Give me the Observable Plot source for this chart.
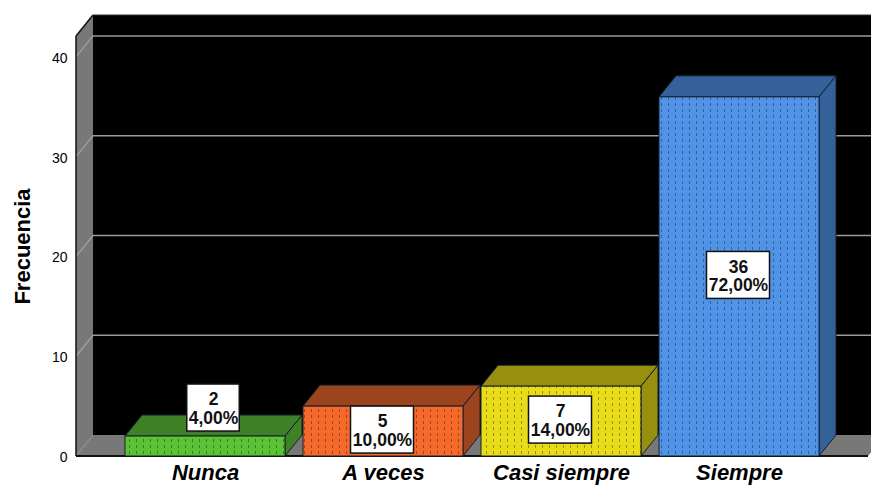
<!DOCTYPE html>
<html>
<head>
<meta charset="utf-8">
<script src="https://cdn.jsdelivr.net/npm/d3@7"></script>
<script src="https://cdn.jsdelivr.net/npm/@observablehq/plot@0.6"></script>
<style>
  html, body { margin: 0; padding: 0; background: #fff; overflow: hidden; }
  svg { display: block; }
</style>
</head>
<body>
<div id="chart"></div>
<script>
const categorias = ["Nunca", "A veces", "Casi siempre", "Siempre"];
const frecuencias = [2, 5, 7, 36];
const porcentajes = ["4,00%", "10,00%", "14,00%", "72,00%"];
const coloresFrente = ["#5cc235", "#f56a2b", "#e9dc18", "#5193e6"];
const coloresCara = ["#3f8126", "#9c441d", "#988f10", "#35619a"];
const marcasY = [0, 10, 20, 30, 40];

const filas = categorias.map((categoria, i) => ({
  categoria,
  frecuencia: frecuencias[i],
  porcentaje: porcentajes[i],
  frente: coloresFrente[i],
  cara: coloresCara[i],
  id: `punteado-${i}`
}));

// Oblique projection used for the depth of the box
const fondoX = 17;
const fondoY = -21;
const NS = "http://www.w3.org/2000/svg";

function poligono(g, puntos, fill, stroke) {
  const p = document.createElementNS(NS, "polygon");
  p.setAttribute("points", puntos.map(q => q.join(",")).join(" "));
  p.setAttribute("fill", fill);
  if (stroke) { p.setAttribute("stroke", stroke); p.setAttribute("stroke-width", 1); p.setAttribute("stroke-linejoin", "round"); }
  g.appendChild(p);
}

function linea(g, a, b, stroke, ancho) {
  const l = document.createElementNS(NS, "line");
  l.setAttribute("x1", a[0]); l.setAttribute("y1", a[1]);
  l.setAttribute("x2", b[0]); l.setAttribute("y2", b[1]);
  l.setAttribute("stroke", stroke); l.setAttribute("stroke-width", ancho);
  g.appendChild(l);
}

// Stippled fills for the front faces
function patrones() {
  const defs = document.createElementNS(NS, "defs");
  for (const f of filas) {
    const pat = document.createElementNS(NS, "pattern");
    pat.setAttribute("id", f.id);
    pat.setAttribute("patternUnits", "userSpaceOnUse");
    pat.setAttribute("width", 7);
    pat.setAttribute("height", 6);
    const base = document.createElementNS(NS, "rect");
    base.setAttribute("width", 7); base.setAttribute("height", 6); base.setAttribute("fill", f.frente);
    const punto = document.createElementNS(NS, "rect");
    punto.setAttribute("x", 3); punto.setAttribute("y", 1);
    punto.setAttribute("width", 1); punto.setAttribute("height", 3);
    punto.setAttribute("fill", d3.color(f.frente).darker(1.2));
    pat.append(base, punto);
    defs.appendChild(pat);
  }
  return defs;
}

// Back wall, left wall, floor and the grid lines that run across them
function caja(index, scales, values, dim) {
  const g = document.createElementNS(NS, "g");
  const izq = dim.marginLeft, der = dim.width - dim.marginRight;
  const arriba = dim.marginTop, abajo = dim.height - dim.marginBottom;
  poligono(g, [[izq + fondoX, arriba + fondoY], [der + fondoX, arriba + fondoY], [der + fondoX, abajo + fondoY], [izq + fondoX, abajo + fondoY]], "#000");
  poligono(g, [[izq, arriba], [izq + fondoX, arriba + fondoY], [izq + fondoX, abajo + fondoY], [izq, abajo]], "#787878");
  poligono(g, [[izq, abajo], [izq + fondoX, abajo + fondoY], [der + fondoX, abajo + fondoY], [der, abajo]], "#787878");
  for (const v of marcasY) {
    const y = scales.y(v);
    if (v > 0) linea(g, [izq + fondoX, y + fondoY], [der + fondoX, y + fondoY], "#9a9a9a", 1.6);
    linea(g, [izq, y], [izq + fondoX, y + fondoY], v > 0 ? "#a0a0a0" : "#8c8c8c", 1.3);
  }
  linea(g, [izq, arriba], [izq + fondoX, arriba + fondoY], "#111", 1.5);
  linea(g, [izq + fondoX, arriba + fondoY], [der + fondoX, arriba + fondoY], "#333", 1);
  linea(g, [izq, arriba], [izq, abajo], "#111", 1.5);
  linea(g, [izq, abajo], [der, abajo], "#111", 2);
  return g;
}

// Top and side faces of each bar
function caras(index, scales) {
  const g = document.createElementNS(NS, "g");
  const ancho = scales.x.bandwidth();
  for (const f of filas) {
    const x0 = scales.x(f.categoria), x1 = x0 + ancho;
    const y0 = scales.y(0), y1 = scales.y(f.frecuencia);
    poligono(g, [[x0, y1], [x0 + fondoX, y1 + fondoY], [x1 + fondoX, y1 + fondoY], [x1, y1]], f.cara, "#14202c");
    poligono(g, [[x1, y1], [x1 + fondoX, y1 + fondoY], [x1 + fondoX, y0 + fondoY], [x1, y0]], f.cara, "#14202c");
  }
  return g;
}

// The lowest bar is too short to hold its label, which sits above it
const desplazaX = d => d.frecuencia < 3 ? 8 : -1;
const desplazaY = d => d.frecuencia < 3 ? -38 : -1;

function cajasEtiqueta(index, scales) {
  const g = document.createElementNS(NS, "g");
  const ancho = scales.x.bandwidth();
  for (const f of filas) {
    const w = f.porcentaje.length * 10.5;
    const cx = scales.x(f.categoria) + ancho / 2 + desplazaX(f);
    const cy = scales.y(f.frecuencia / 2) + desplazaY(f);
    const r = document.createElementNS(NS, "rect");
    r.setAttribute("x", cx - w / 2); r.setAttribute("y", cy - 24);
    r.setAttribute("width", w); r.setAttribute("height", 47);
    r.setAttribute("fill", "#fff"); r.setAttribute("stroke", "#111"); r.setAttribute("stroke-width", 1.5);
    g.appendChild(r);
  }
  return g;
}

const chart = Plot.plot({
  width: 871,
  height: 486,
  marginLeft: 76,
  marginRight: 3,
  marginTop: 36,
  marginBottom: 30,
  style: { fontFamily: "'Liberation Sans', Arial, sans-serif", background: "#fff", color: "#000" },
  x: { domain: categorias, paddingInner: 18 / 178, paddingOuter: 49 / 178, label: null },
  y: { domain: [0, 42.1], label: null },
  marks: [
    patrones,
    caja,
    Plot.axisY({ ticks: marcasY, tickSize: 0, tickPadding: 9, dy: 1, fontSize: 14, label: null, tickFormat: d => String(d) }),
    Plot.axisX({ tickSize: 0, tickPadding: 8, fontSize: 22, fontWeight: "bold", fontStyle: "italic", label: null }),
    Plot.text(["Frecuencia"], {
      frameAnchor: "left", textAnchor: "middle", rotate: -90, dx: -54,
      fontSize: 22, fontWeight: "bold", fill: "#000"
    }),
    caras,
    Plot.barY(filas, {
      x: "categoria",
      y: "frecuencia",
      fill: d => `url(#${d.id})`,
      stroke: "#14202c",
      strokeWidth: 1
    }),
    cajasEtiqueta,
    Plot.text(filas, {
      x: "categoria",
      y: d => d.frecuencia / 2,
      text: d => `${d.frecuencia}\n${d.porcentaje}`,
      fontSize: 17.5,
      fontWeight: "bold",
      fill: "#111",
      lineHeight: 1.05,
      render(index, scales, values, dim, ctx, next) {
        const out = next(index, scales, values, dim, ctx);
        out.querySelectorAll("text").forEach((t, k) => {
          const f = filas[index[k]];
          t.setAttribute("transform", `${t.getAttribute("transform") || ""} translate(${desplazaX(f)},${desplazaY(f)})`);
        });
        return out;
      }
    })
  ]
});
document.getElementById("chart").appendChild(chart);
</script>
</body>
</html>
